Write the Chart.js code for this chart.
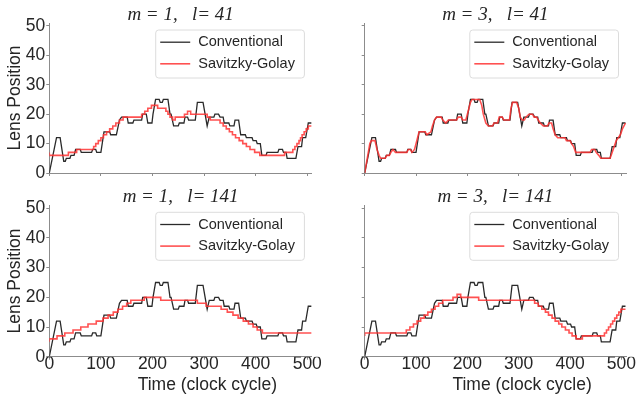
<!DOCTYPE html>
<html>
<head>
<meta charset="utf-8">
<script src="https://cdn.jsdelivr.net/npm/chart.js@4.4.0/dist/chart.umd.min.js"></script>
<style>
  body { margin: 0; background: #fff; }
  #wrap { position: relative; width: 638px; height: 396px; overflow: hidden; }
  #wrap canvas { position: absolute; }
</style>
</head>
<body>
<div id="wrap">
  <canvas id="tl" width="335" height="185" style="left:0;top:0"></canvas>
  <canvas id="tr" width="318" height="185" style="left:320px;top:0"></canvas>
  <canvas id="bl" width="335" height="211" style="left:0;top:185px"></canvas>
  <canvas id="br" width="318" height="211" style="left:320px;top:185px"></canvas>
</div>
<script>
// axis ticks
const xTicks = [0, 100, 200, 300, 400, 500];
const yTicks = [0, 10, 20, 30, 40, 50];

// conventional search (same in all four panels)
const convT = [0,14,21,28,31,33,40,42,48,51,60,62,82,84,90,92,100,106,117,119,130,136,140,151,153,162,164,179,181,188,191,199,201,206,213,215,219,221,230,234,236,241,250,252,261,263,268,270,283,287,298,306,310,319,321,328,331,337,339,348,350,358,360,367,371,380,382,393,395,401,403,409,412,420,422,443,445,452,454,459,461,478,482,489,491,497,502,508];
const convY = [0,12,12,4,4,5,5,6,6,8,8,7,7,8,8,7,7,14,14,13,13,18,19,19,17,17,18,18,20,20,17,17,20,25,25,24,24,25,25,20,20,16,16,17,17,19,19,18,18,24,24,16,19,19,20,20,19,19,17,17,16,16,18,18,13,13,12,12,11,11,10,10,6,6,7,7,8,8,7,7,5,5,9,9,12,12,17,17];

// Savitzky-Golay, m = 1, l = 41 (value changes)
const sgT_m1_l41 = [0,37,53,86,90,95,100,105,111,117,123,129,136,143,179,185,191,198,210,226,230,234,239,244,262,268,274,306,312,331,337,343,349,355,361,368,375,382,389,398,408,456,472,476,480,484,487,490,494,498,502,505,508];
const sgY_m1_l41 = [7,6,7,8,9,10,11,12,13,14,15,16,17,18,19,20,21,22,23,22,21,20,19,18,19,20,21,20,19,18,17,16,15,14,13,12,11,10,9,8,7,6,7,8,9,10,11,12,13,14,15,16,16];

// Savitzky-Golay, m = 3, l = 41
const sgT_m3_l41 = [0,5,10,13,20,24,28,31,40,43,48,51,55,60,82,85,89,92,97,100,103,106,118,121,129,132,136,140,149,152,158,163,179,182,188,191,197,200,203,206,209,224,228,231,236,241,249,252,259,262,268,271,282,285,288,296,300,303,307,311,314,320,327,330,335,338,342,348,356,359,364,367,371,376,390,393,400,403,407,411,439,442,448,451,456,460,478,482,486,490,494,498,502,508];
const sgY_m3_l41 = [0,5,10,11,11,8,6,5,5,6,6,7,8,7,7,8,8,7,8,10,12,14,14,13,14,16,18,19,19,18,17,18,18,19,19,18,18,20,22,24,25,25,23,20,17,16,16,17,17,19,19,18,18,22,24,24,22,19,18,18,19,20,20,19,19,18,17,16,16,17,17,15,13,12,12,11,11,10,9,7,7,8,8,7,6,5,5,7,9,11,12,13,15,17];

// Savitzky-Golay, m = 1, l = 141 (value changes)
const sgT_m1_l141 = [0,15,30,46,61,75,91,104,114,124,133,142,150,158,184,216,287,304,333,345,356,366,376,386,395,403,413,471,508];
const sgY_m1_l141 = [5,6,7,8,9,10,11,12,13,14,15,16,17,18,19,20,19,18,17,16,15,14,13,12,11,10,9,8,8];

// Savitzky-Golay, m = 3, l = 141 (value changes)
const sgT_m3_l141 = [0,81,88,95,102,109,116,123,130,137,144,152,172,180,187,222,331,338,345,352,358,365,371,378,384,391,398,404,412,424,467,471,475,479,483,487,491,495,499,503,508];
const sgY_m3_l141 = [7,8,9,10,11,12,13,14,15,16,17,18,19,20,21,20,19,18,17,16,15,14,13,12,11,10,9,8,7,6,7,8,9,10,11,12,13,14,15,16,16];

const BLACK = '#2a2a2a';
const RED = 'rgba(255, 50, 50, 0.85)';
const AXIS = '#8c8c8c';
const TXT = '#262626';
const SANS = "'Liberation Sans', Arial, sans-serif";

const toPoints = (ts, ys) => ts.map((t, i) => ({ x: t, y: ys[i] }));

// legend drawn inside the plot, top right, with a light frame
const boxLegend = {
  id: 'boxLegend',
  afterDatasetsDraw(chart) {
    const { ctx, chartArea } = chart;
    const ds = chart.data.datasets;
    ctx.save();
    ctx.font = '14.5px ' + SANS;
    const textW = Math.max(...ds.map(d => ctx.measureText(d.label).width));
    const w = 43 + textW + 9, h = 48;
    const x = chartArea.right - 8 - w, y = chartArea.top + 6.5;
    ctx.beginPath();
    ctx.roundRect(x + 0.5, y + 0.5, w, h, 3);
    ctx.fillStyle = 'rgba(255,255,255,0.85)';
    ctx.fill();
    ctx.strokeStyle = '#dcdcdc';
    ctx.lineWidth = 1;
    ctx.stroke();
    ds.forEach((d, i) => {
      const cy = y + 12.7 + i * 21.6;
      ctx.strokeStyle = d.borderColor;
      ctx.lineWidth = d.borderWidth;
      ctx.beginPath();
      ctx.moveTo(x + 5, cy);
      ctx.lineTo(x + 35, cy);
      ctx.stroke();
      ctx.fillStyle = TXT;
      ctx.textBaseline = 'middle';
      ctx.fillText(d.label, x + 43, cy);
    });
    ctx.restore();
  }
};

const panels = [
  { id: 'tl', title: 'm = 1,   l= 41', t: sgT_m1_l41, y: sgY_m1_l41, stepped: 'after', left: true, bottom: false },
  { id: 'tr', title: 'm = 3,   l= 41', t: sgT_m3_l41, y: sgY_m3_l41, stepped: false, left: false, bottom: false },
  { id: 'bl', title: 'm = 1,   l= 141', t: sgT_m1_l141, y: sgY_m1_l141, stepped: 'after', left: true, bottom: true },
  { id: 'br', title: 'm = 3,   l= 141', t: sgT_m3_l141, y: sgY_m3_l141, stepped: 'after', left: false, bottom: true }
];

panels.forEach(p => {
  new Chart(document.getElementById(p.id), {
    type: 'line',
    data: {
      datasets: [
        { label: 'Conventional', data: toPoints(convT, convY), borderColor: BLACK, borderWidth: 1.3, order: 1 },
        { label: 'Savitzky-Golay', data: toPoints(p.t, p.y), borderColor: RED, borderWidth: 1.6, stepped: p.stepped, order: 0 }
      ]
    },
    options: {
      responsive: false,
      animation: false,
      events: [],
      layout: { padding: { left: 0, right: p.left ? 23.1 : 12, top: 0, bottom: 0 } },
      elements: { point: { radius: 0 }, line: { tension: 0 } },
      plugins: {
        legend: { display: false },
        tooltip: { enabled: false },
        title: {
          display: true,
          text: p.title,
          fullSize: false,
          color: TXT,
          font: { family: "'Liberation Serif', 'Times New Roman', serif", style: 'italic', weight: 'normal', size: 19, lineHeight: '15px' },
          padding: p.bottom ? { top: 4, bottom: 1.3 } : { top: 7.3, bottom: 0.7 }
        }
      },
      scales: {
        x: {
          type: 'linear',
          min: 0,
          max: 509,
          afterBuildTicks: s => { s.ticks = xTicks.map(v => ({ value: v })); },
          afterFit: s => { s.height = p.bottom ? 39.3 : 12; },
          border: { color: AXIS, width: 1 },
          grid: { drawOnChartArea: false, tickLength: 3, color: AXIS, tickColor: AXIS },
          ticks: { display: p.bottom, padding: -4, color: TXT, font: { family: SANS, size: 17.5, lineHeight: 1 } },
          title: {
            display: p.bottom,
            text: '           Time (clock cycle)',
            color: TXT,
            font: { family: SANS, size: 17.5 },
            padding: { top: 0, bottom: 0.5 }
          }
        },
        y: {
          min: 0,
          max: 51,
          afterBuildTicks: s => { s.ticks = yTicks.map(v => ({ value: v })); },
          afterFit: s => { s.width = p.left ? 49.3 : 44.7; },
          border: { color: AXIS, width: 1 },
          grid: { drawOnChartArea: false, tickLength: 3, color: AXIS, tickColor: AXIS },
          ticks: { display: p.left, padding: 1, color: TXT, font: { family: SANS, size: 17.5 } },
          title: {
            display: p.left,
            text: 'Lens Position',
            color: TXT,
            font: { family: SANS, size: 17.5 },
            padding: { top: 5, bottom: 0 }
          }
        }
      }
    },
    plugins: [boxLegend]
  });
});
</script>
</body>
</html>
